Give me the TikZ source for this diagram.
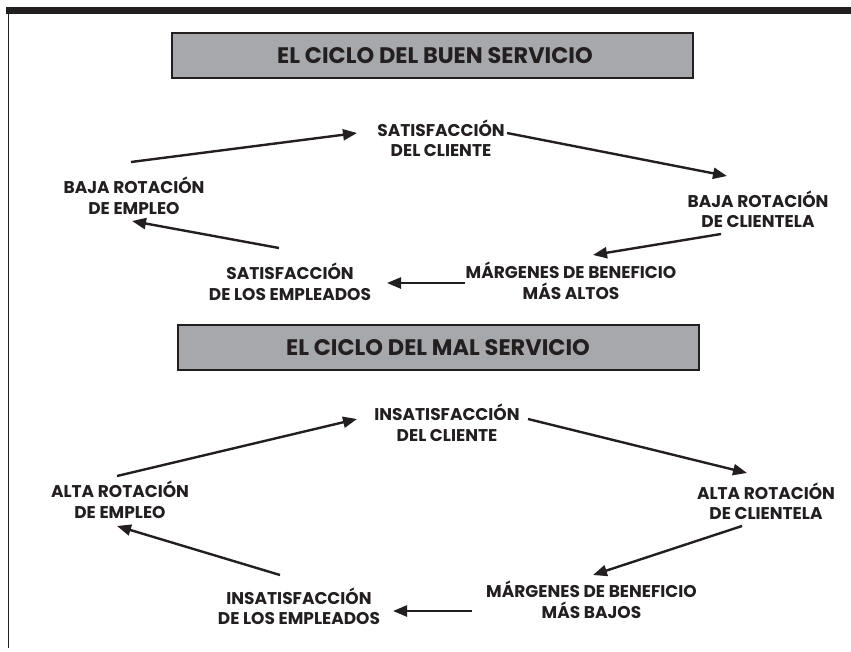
\documentclass[tikz,border=0pt]{standalone}
\usepackage{fontspec}
\setmainfont{Poppins}
\usetikzlibrary{arrows.meta}
\begin{document}
\begin{tikzpicture}[x=1pt,y=-1pt,
  lbl/.style={align=center,inner sep=0pt,text=ink,font=\bfseries\fontsize{17}{20.5}\selectfont},
  ttl/.style={text=ink,font=\bfseries\fontsize{22.5}{26}\selectfont},
  arr/.style={draw=ink,line width=2.4pt,-{Triangle[length=14pt,width=11pt]}},
  tbox/.style={fill=boxgray,draw=ink,line width=2pt}]
\definecolor{boxgray}{HTML}{A7A8AB}
\definecolor{ink}{HTML}{231F20}
\useasboundingbox (0,0) rectangle (851,651);
\fill[white] (0,0) rectangle (851,651);
% frame
\fill[ink] (6,6.5) rectangle (851,14);
\draw[ink,line width=1.2pt] (8.5,14) -- (8.5,648);
% title boxes
\draw[tbox] (172,33) rectangle (693,78);
\node[ttl] (t1) at (435,55.5) {EL CICLO DEL BUEN SERVICIO};
\draw[tbox] (178,325) rectangle (699,370);
\node[ttl] (t2) at (438,348) {EL CICLO DEL MAL SERVICIO};
% top cycle
\node[lbl] (sc) at (441,138) {SATISFACCIÓN\\DEL CLIENTE};
\node[lbl] (be) at (134,196) {BAJA ROTACIÓN\\DE EMPLEO};
\node[lbl] (bc) at (758,209) {BAJA ROTACIÓN\\DE CLIENTELA};
\node[lbl] (ma) at (571,281) {MÁRGENES DE BENEFICIO\\MÁS ALTOS};
\node[lbl] (se) at (290,282) {SATISFACCIÓN\\DE LOS EMPLEADOS};
\coordinate (a1s) at (131,162); \coordinate (a1e) at (357,133);
\coordinate (a2s) at (507,133); \coordinate (a2e) at (727,176);
\coordinate (a3s) at (721,234); \coordinate (a3e) at (593,255);
\coordinate (a4s) at (465,283); \coordinate (a4e) at (387,283);
\coordinate (a5s) at (279,248); \coordinate (a5e) at (132,221);
\draw[arr] (a1s) -- (a1e);
\draw[arr] (a2s) -- (a2e);
\draw[arr] (a3s) -- (a3e);
\draw[arr] (a4s) -- (a4e);
\draw[arr] (a5s) -- (a5e);
% bottom cycle
\node[lbl] (ic) at (447,422.5) {INSATISFACCIÓN\\DEL CLIENTE};
\node[lbl] (ae) at (120,500) {ALTA ROTACIÓN\\DE EMPLEO};
\node[lbl] (ac) at (766,501) {ALTA ROTACIÓN\\DE CLIENTELA};
\node[lbl] (mb) at (591.5,600) {MÁRGENES DE BENEFICIO\\MÁS BAJOS};
\node[lbl] (ie) at (299,606.5) {INSATISFACCIÓN\\DE LOS EMPLEADOS};
\coordinate (b1s) at (117,476); \coordinate (b1e) at (357,419);
\coordinate (b2s) at (528,419); \coordinate (b2e) at (747,473);
\coordinate (b3s) at (742,526); \coordinate (b3e) at (593,575);
\coordinate (b4s) at (472,611); \coordinate (b4e) at (393,611);
\coordinate (b5s) at (280,575); \coordinate (b5e) at (117,526);
\draw[arr] (b1s) -- (b1e);
\draw[arr] (b2s) -- (b2e);
\draw[arr] (b3s) -- (b3e);
\draw[arr] (b4s) -- (b4e);
\draw[arr] (b5s) -- (b5e);
\end{tikzpicture}
\end{document}
